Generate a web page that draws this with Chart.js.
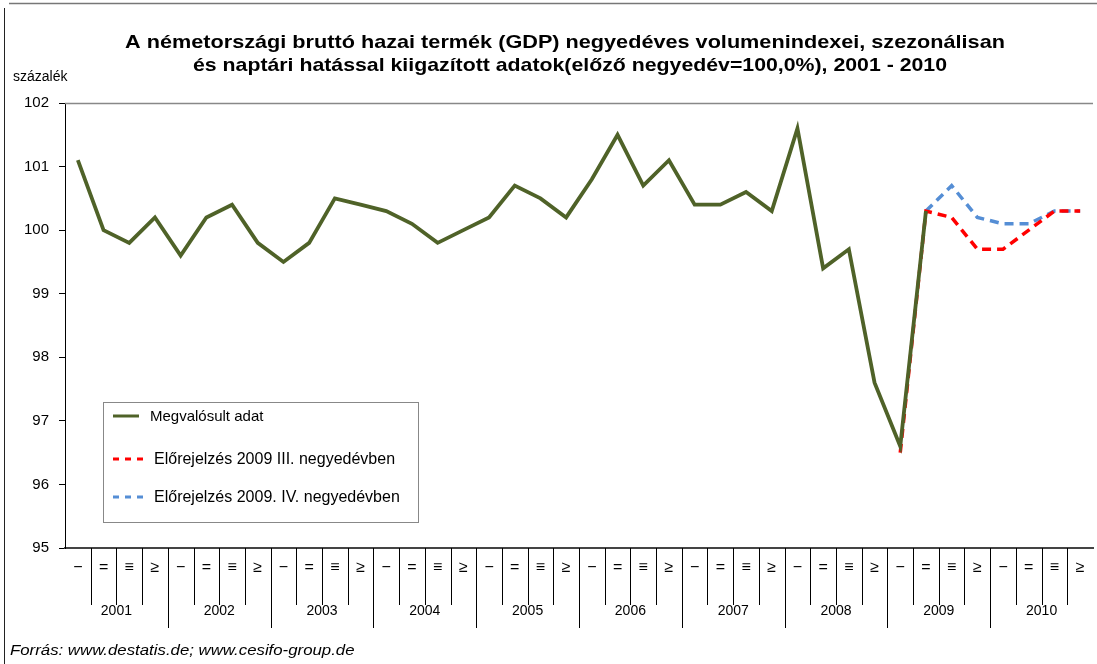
<!DOCTYPE html>
<html>
<head>
<meta charset="utf-8">
<script src="https://cdn.jsdelivr.net/npm/chart.js@4"></script>
<style>
  html, body { margin: 0; padding: 0; background: #fff; }
  #wrap { width: 1097px; height: 664px; }
</style>
</head>
<body>
<div id="wrap"><canvas id="chartCanvas" width="1097" height="664"></canvas></div>
<script>
// quarters shown in the source with symbol-font roman numerals
const quarterGlyphs = ["\u2212", "=", "\u2261", "\u2265"];
const years = ["2001", "2002", "2003", "2004", "2005", "2006", "2007", "2008", "2009", "2010"];
const yTicks = [95, 96, 97, 98, 99, 100, 101, 102];

// actual data, 2001 Q1 .. 2009 Q2
const actual = [
  101.1, 100.0, 99.8, 100.2,
  99.6, 100.2, 100.4, 99.8,
  99.5, 99.8, 100.5, 100.4,
  100.3, 100.1, 99.8, 100.0,
  100.2, 100.7, 100.5, 100.2,
  100.8, 101.5, 100.7, 101.1,
  100.4, 100.4, 100.6, 100.3,
  101.6, 99.4, 99.7, 97.6,
  96.6, 100.3
];
// forecast made in 2009 Q3, from 2009 Q1
const forecastQ3 = [96.5, 100.3, 100.2, 99.7, 99.7, 100.0, 100.3, 100.3];
// forecast made in 2009 Q4, from 2009 Q2
const forecastQ4 = [100.3, 100.7, 100.2, 100.1, 100.1, 100.3, 100.3];

const labels = [];
years.forEach(y => quarterGlyphs.forEach((q, i) => labels.push(y + "-" + (i + 1))));

const pad = (arr, start) => labels.map((_, i) => (i >= start && i - start < arr.length) ? arr[i - start] : null);

const FONT = "Arial, 'Liberation Sans', sans-serif";

// text drawn a bit wider, like the source picture
function wideText(ctx, txt, x, y, sx) {
  ctx.save();
  ctx.translate(x, y);
  ctx.scale(sx, 1);
  ctx.fillText(txt, 0, 0);
  ctx.restore();
}

const decor = {
  id: "decor",
  beforeDraw(chart) {
    const ctx = chart.ctx;
    ctx.save();
    ctx.fillStyle = "#fff";
    ctx.fillRect(0, 0, chart.width, chart.height);
    // outer frame
    ctx.strokeStyle = "#777";
    ctx.lineWidth = 1.5;
    ctx.beginPath();
    ctx.moveTo(9, 3.5); ctx.lineTo(chart.width, 3.5);
    ctx.stroke();
    ctx.strokeStyle = "#222";
    ctx.lineWidth = 1;
    ctx.beginPath();
    ctx.moveTo(4.5, 8); ctx.lineTo(4.5, chart.height);
    ctx.stroke();
    ctx.restore();
  },
  afterDraw(chart) {
    const ctx = chart.ctx;
    const area = chart.chartArea;
    const xs = chart.scales.x;
    ctx.save();
    // title
    ctx.fillStyle = "#000";
    ctx.textAlign = "center";
    ctx.textBaseline = "middle";
    ctx.font = "bold 19px " + FONT;
    wideText(ctx, "A németországi bruttó hazai termék (GDP) negyedéves volumenindexei, szezonálisan", 565, 43, 1.14);
    wideText(ctx, "és naptári hatással kiigazított adatok(előző negyedév=100,0%), 2001 - 2010", 570, 66, 1.12);
    ctx.font = "14px " + FONT;
    ctx.textAlign = "left";
    ctx.fillText("százalék", 13, 77);
    ctx.font = "italic 15px " + FONT;
    wideText(ctx, "Forrás: www.destatis.de; www.cesifo-group.de", 10, 651, 1.12);

    // top border of plot area
    ctx.strokeStyle = "#888";
    ctx.lineWidth = 1.5;
    ctx.beginPath();
    ctx.moveTo(area.left, area.top + 0.5);
    ctx.lineTo(area.right, area.top + 0.5);
    ctx.stroke();

    // category axis: quarter and year rows
    const step = xs.getPixelForValue(1) - xs.getPixelForValue(0);
    ctx.strokeStyle = "#000";
    ctx.lineWidth = 1;
    for (let i = 1; i < labels.length; i++) {
      const x = Math.round(xs.getPixelForValue(i) - step / 2) + 0.5;
      ctx.beginPath();
      ctx.moveTo(x, area.bottom);
      ctx.lineTo(x, i % 4 === 0 ? area.bottom + 80 : area.bottom + 57);
      ctx.stroke();
    }
    ctx.fillStyle = "#000";
    ctx.textAlign = "center";
    ctx.font = "16px " + FONT;
    labels.forEach((_, i) => {
      ctx.fillText(quarterGlyphs[i % 4], xs.getPixelForValue(i), area.bottom + 20);
    });
    ctx.font = "14px " + FONT;
    years.forEach((y, k) => {
      const x = (xs.getPixelForValue(k * 4) + xs.getPixelForValue(k * 4 + 3)) / 2;
      ctx.fillText(y, x, area.bottom + 63);
    });

    // legend box
    const bx = 103.5, by = 402.5, bw = 315, bh = 120;
    ctx.strokeStyle = "#888";
    ctx.lineWidth = 1;
    ctx.strokeRect(bx, by, bw, bh);
    const rows = [416, 459, 497];
    ctx.textAlign = "left";
    chart.data.datasets.forEach((ds, i) => {
      const y = rows[i];
      ctx.strokeStyle = ds.borderColor;
      ctx.lineWidth = 3;
      ctx.setLineDash(ds.borderDash ? [6, 6] : []);
      ctx.beginPath();
      ctx.moveTo(113, y);
      ctx.lineTo(i === 0 ? 139 : 143, y);
      ctx.stroke();
      ctx.setLineDash([]);
      ctx.fillStyle = "#000";
      ctx.font = (i === 0 ? "15px " : "16px ") + FONT;
      ctx.fillText(ds.label, i === 0 ? 150 : 154, y + 1);
    });
    ctx.restore();
  }
};

new Chart(document.getElementById("chartCanvas").getContext("2d"), {
  type: "line",
  data: {
    labels,
    datasets: [
      {
        label: "Megvalósult adat",
        data: pad(actual, 0),
        borderColor: "#4F6228",
        borderWidth: 3.8,
        pointRadius: 0,
        tension: 0,
        order: 0
      },
      {
        label: "Előrejelzés 2009 III. negyedévben",
        data: pad(forecastQ3, 32),
        borderColor: "#FF0000",
        borderWidth: 3.5,
        borderDash: [9, 6],
        pointRadius: 0,
        tension: 0,
        order: 1
      },
      {
        label: "Előrejelzés 2009. IV. negyedévben",
        data: pad(forecastQ4, 33),
        borderColor: "#558ED5",
        borderWidth: 3.5,
        borderDash: [9, 6],
        pointRadius: 0,
        tension: 0,
        order: 2
      }
    ]
  },
  options: {
    responsive: false,
    animation: false,
    layout: { padding: { top: 103, right: 4, bottom: 116, left: 0 } },
    plugins: {
      legend: { display: false },
      title: { display: false },
      tooltip: { enabled: false }
    },
    scales: {
      x: {
        type: "category",
        offset: true,
        grid: { display: false, drawTicks: false },
        border: { display: true, color: "#444", width: 2 },
        ticks: { display: false }
      },
      y: {
        min: 95,
        max: 102,
        afterFit(scale) { scale.width = 65; },
        afterBuildTicks(scale) { scale.ticks = yTicks.map(v => ({ value: v })); },
        grid: { drawOnChartArea: false, drawTicks: true, tickLength: 6, color: "#000" },
        border: { display: true, color: "#000", width: 1 },
        ticks: {
          color: "#000",
          padding: 10,
          font: { family: FONT, size: 15 }
        }
      }
    }
  },
  plugins: [decor]
});
</script>
</body>
</html>
